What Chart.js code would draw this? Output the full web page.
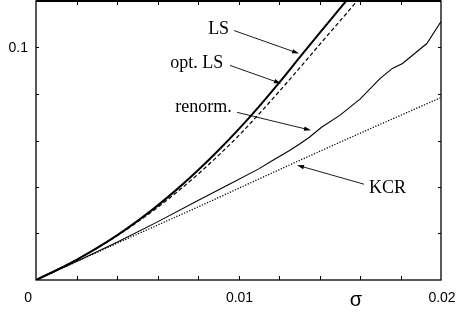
<!DOCTYPE html>
<html>
<head>
<meta charset="utf-8">
<script src="https://cdn.jsdelivr.net/npm/chart.js@4/dist/chart.umd.min.js"></script>
<style>
  body { margin: 0; background: #fff; }
  canvas { display: block; }
</style>
</head>
<body>
<canvas id="chart" width="459" height="315"></canvas>
<script>
// values
const sigmaGrid = [0, 0.001, 0.002, 0.003, 0.004, 0.005, 0.006, 0.007, 0.008, 0.009,
                   0.010, 0.011, 0.012, 0.013, 0.014, 0.015, 0.016, 0.017];
const lsValues = [0, 0.0042, 0.0087, 0.0137, 0.0192, 0.0253, 0.0320, 0.0393, 0.0472, 0.0557,
                  0.0648, 0.0745, 0.0848, 0.0955, 0.1062, 0.1167, 0.1272, 0.1380];
const optLsValues = [0, 0.0042, 0.0087, 0.0136, 0.0190, 0.0249, 0.0312, 0.0381, 0.0455, 0.0535,
                     0.0620, 0.0713, 0.0810, 0.0910, 0.1012, 0.1113, 0.1215, 0.1320];

const sigmaRenorm = [0, 0.002, 0.004, 0.006, 0.008, 0.0095, 0.0110, 0.0117, 0.0125, 0.0130,
                     0.0135, 0.0141, 0.0150, 0.0160, 0.0170, 0.0176, 0.0181, 0.0193, 0.0200];
const renormValues = [0, 0.0080, 0.0162, 0.0250, 0.0342, 0.0410, 0.0478, 0.0515, 0.0556, 0.0584,
                      0.0614, 0.0657, 0.0708, 0.0778, 0.0867, 0.0910, 0.0931, 0.1017, 0.1112];

const sigmaKcr = [0, 0.002, 0.004, 0.006, 0.008, 0.010, 0.012, 0.014, 0.016, 0.018, 0.020];
const kcrValues = [0, 0.0079, 0.0158, 0.0236, 0.0314, 0.0394, 0.0474, 0.0553, 0.0631, 0.0708, 0.0785];

const xTickValues = [0, 0.01, 0.02];
const xTickLabels = ["0", "0.01", "0.02"];
const yTickValues = [0.1];
const yTickLabels = ["0.1"];
const xTitle = "σ";

// curve labels with arrows, in data coordinates
const callouts = [
  { text: "LS",      at: [0.00850, 0.1077], from: [0.00978, 0.1073], to: [0.01299, 0.0974] },
  { text: "opt. LS", at: [0.00663, 0.0931], from: [0.00958, 0.0923], to: [0.01210, 0.0845] },
  { text: "renorm.", at: [0.00688, 0.0742], from: [0.00993, 0.0721], to: [0.01358, 0.0644] },
  { text: "KCR",     at: [0.01644, 0.0395], from: [0.01620, 0.0412], to: [0.01289, 0.0494] }
];

const pts = (xs, ys) => xs.map((x, i) => ({ x: x, y: ys[i] }));

const frame = {
  id: 'frame',
  afterDraw(chart) {
    const { ctx, chartArea: a, scales: { x, y } } = chart;
    ctx.save();
    ctx.strokeStyle = '#000';
    ctx.lineWidth = 1.3;
    ctx.strokeRect(a.left, a.top, a.right - a.left, a.bottom - a.top);
    // top edge reads a bit heavier in the original
    ctx.lineWidth = 1.8;
    ctx.beginPath();
    ctx.moveTo(a.left, a.top); ctx.lineTo(a.right, a.top);
    ctx.stroke();

    // inward ticks on all four sides
    ctx.lineWidth = 1;
    ctx.beginPath();
    for (let i = 1; i < 10; i++) {
      const px = Math.round(x.getPixelForValue(i * 0.002)) + 0.5;
      ctx.moveTo(px, a.bottom); ctx.lineTo(px, a.bottom - 4);
      ctx.moveTo(px, a.top); ctx.lineTo(px, a.top + 4);
    }
    for (let i = 1; i < 6; i++) {
      const py = Math.round(y.getPixelForValue(i * 0.02)) + 0.5;
      ctx.moveTo(a.left, py); ctx.lineTo(a.left + 3, py);
      ctx.moveTo(a.right, py); ctx.lineTo(a.right - 3, py);
    }
    ctx.stroke();

    // tick labels
    ctx.fillStyle = '#000';
    ctx.font = '14px "Liberation Sans", Arial, sans-serif';
    ctx.textBaseline = 'alphabetic';
    xTickValues.forEach((v, i) => {
      const px = x.getPixelForValue(v);
      if (v === 0) {
        ctx.textAlign = 'right';
        ctx.fillText(xTickLabels[i], px - 4, 302);
      } else {
        ctx.textAlign = 'center';
        ctx.fillText(xTickLabels[i], px + 1, 302);
      }
    });
    ctx.textAlign = 'right';
    ctx.textBaseline = 'middle';
    yTickValues.forEach((v, i) => {
      ctx.fillText(yTickLabels[i], a.left - 8, y.getPixelForValue(v) + 1);
    });

    // axis title
    ctx.font = '20px "Liberation Sans", Arial, sans-serif';
    ctx.textAlign = 'center';
    ctx.textBaseline = 'alphabetic';
    ctx.fillText(xTitle, x.getPixelForValue(0.0158), 306);

    // callouts
    ctx.font = '18px "Liberation Serif", "Times New Roman", serif';
    ctx.textAlign = 'left';
    ctx.textBaseline = 'middle';
    ctx.lineWidth = 0.9;
    callouts.forEach(c => {
      ctx.fillText(c.text, x.getPixelForValue(c.at[0]), y.getPixelForValue(c.at[1]));
      const x0 = x.getPixelForValue(c.from[0]), y0 = y.getPixelForValue(c.from[1]);
      const x1 = x.getPixelForValue(c.to[0]), y1 = y.getPixelForValue(c.to[1]);
      const ang = Math.atan2(y1 - y0, x1 - x0);
      ctx.beginPath();
      ctx.moveTo(x0, y0);
      ctx.lineTo(x1 - 4 * Math.cos(ang), y1 - 4 * Math.sin(ang));
      ctx.stroke();
      ctx.beginPath();
      ctx.moveTo(x1, y1);
      ctx.lineTo(x1 - 7 * Math.cos(ang) + 2.2 * Math.sin(ang), y1 - 7 * Math.sin(ang) - 2.2 * Math.cos(ang));
      ctx.lineTo(x1 - 7 * Math.cos(ang) - 2.2 * Math.sin(ang), y1 - 7 * Math.sin(ang) + 2.2 * Math.cos(ang));
      ctx.closePath();
      ctx.fill();
    });
    ctx.restore();
  }
};

new Chart(document.getElementById('chart'), {
  type: 'line',
  data: {
    datasets: [
      { label: 'LS', data: pts(sigmaGrid, lsValues), borderColor: '#000', borderWidth: 2,
        cubicInterpolationMode: 'monotone' },
      { label: 'opt. LS', data: pts(sigmaGrid, optLsValues), borderColor: '#000', borderWidth: 1.2,
        borderDash: [4, 2.5], cubicInterpolationMode: 'monotone' },
      { label: 'renorm.', data: pts(sigmaRenorm, renormValues), borderColor: '#000', borderWidth: 1.1,
        tension: 0 },
      { label: 'KCR', data: pts(sigmaKcr, kcrValues), borderColor: '#000', borderWidth: 1.3,
        borderDash: [1.2, 1.6], cubicInterpolationMode: 'monotone' }
    ]
  },
  options: {
    responsive: false,
    animation: false,
    layout: { padding: { left: 36, right: 18, top: 1, bottom: 35 } },
    elements: { point: { radius: 0 } },
    plugins: { legend: { display: false }, tooltip: { enabled: false } },
    scales: {
      x: { type: 'linear', min: 0, max: 0.02, display: false },
      y: { type: 'linear', min: 0, max: 0.12, display: false }
    }
  },
  plugins: [frame]
});
</script>
</body>
</html>
